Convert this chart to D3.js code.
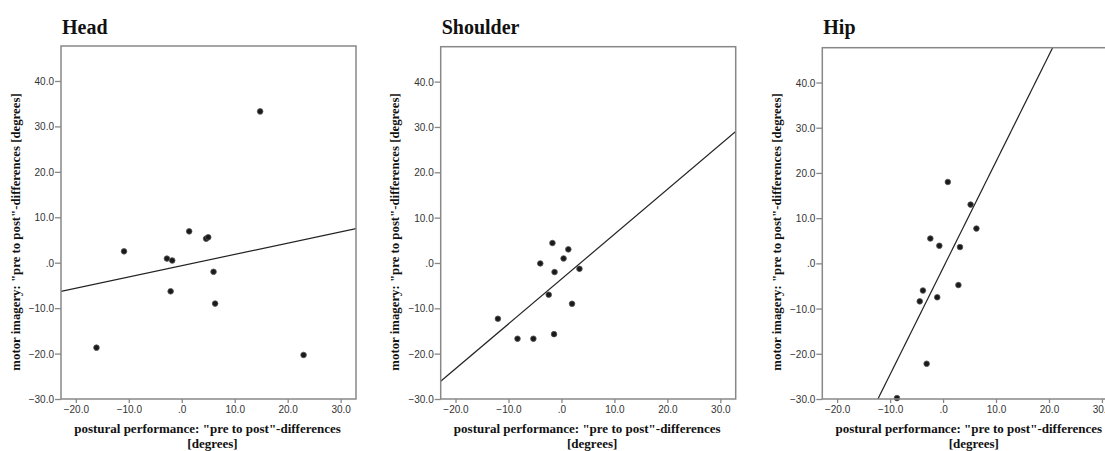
<!DOCTYPE html>
<html>
<head>
<meta charset="utf-8">
<script src="https://cdn.jsdelivr.net/npm/d3@7"></script>
<style>
  body { margin: 0; background: #fff; }
  svg { display: block; }
  .tick text { font-family: Arial, "Liberation Sans", sans-serif; font-size: 10px; fill: #333; }
  .tick line { stroke: #888; stroke-width: 1.3; }
  .domain { display: none; }
</style>
</head>
<body>
<svg id="chart" width="1105" height="451"></svg>
<script>
// Panel titles
const panelTitles = ['Head', 'Shoulder', 'Hip'];

// Scatter values (x: postural, y: motor imagery)
const headX = [14.8, -10.9, -2.8, -1.8, 1.4, 4.6, 5.0, 6.0, -2.1, 6.3, -16.1, 23.0];
const headY = [33.3, 2.5, 0.9, 0.5, 6.9, 5.3, 5.6, -2.0, -6.3, -9.0, -18.7, -20.3];

const shoulderX = [-1.7, 1.3, 0.4, -4.0, -1.3, 3.4, -2.4, 2.0, -12.0, -8.3, -5.3, -1.4];
const shoulderY = [4.4, 3.0, 1.0, -0.1, -2.0, -1.3, -7.0, -9.0, -12.3, -16.7, -16.7, -15.7];

const hipX = [0.9, 5.2, 6.3, -2.4, -0.7, 3.2, 2.9, -3.8, -1.1, -4.4, -3.1, -8.7];
const hipY = [18.0, 13.0, 7.7, 5.5, 3.9, 3.6, -4.8, -6.0, -7.5, -8.4, -22.2, -29.8];

// Fit lines (intercept, slope)
const fitIntercepts = [-0.65, -3.55, -1.03];
const fitSlopes = [0.248, 0.989, 2.355];

// Axes
const xTicks = [-20, -10, 0, 10, 20, 30];
const yTicks = [-30, -20, -10, 0, 10, 20, 30, 40];
const xDomain = [-22.8, 32.9];
const yDomain = [-30, 47.7];

const xLabel = ['postural performance: "pre to post"-differences', '[degrees]'];
const yLabel = 'motor imagery: "pre to post"-differences [degrees]';

const seriesX = [headX, shoulderX, hipX];
const seriesY = [headY, shoulderY, hipY];

const panelLeft = [61, 440.7, 822.3];
const panelTop = [46, 46.7, 47.7];
const plotW = 295;
const plotBottom = 399;

const svg = d3.select('#chart');
const fmt = d => d === 0 ? '.0' : d3.format('.1f')(d);
const serif = '"Liberation Serif", "Times New Roman", serif';

panelTitles.forEach((title, i) => {
  const left = panelLeft[i];
  const top = panelTop[i];
  const h = plotBottom - top;

  const x = d3.scaleLinear().domain(xDomain).range([0, plotW]);
  const y = d3.scaleLinear().domain(yDomain).range([h, 0]);

  const g = svg.append('g')
    .attr('class', 'panel')
    .attr('transform', `translate(${left},${top})`);

  // Title
  svg.append('text')
    .attr('x', left + 1)
    .attr('y', 33.5)
    .attr('font-family', serif)
    .attr('font-weight', 'bold')
    .attr('font-size', 20)
    .attr('fill', '#111')
    .text(title);

  // Clip for the fit line
  svg.append('clipPath')
    .attr('id', `clip-${i}`)
    .append('rect')
    .attr('width', plotW)
    .attr('height', h);

  // Axes
  g.append('g')
    .attr('transform', `translate(0,${h})`)
    .call(d3.axisBottom(x).tickValues(xTicks).tickFormat(fmt).tickSize(4).tickPadding(3));

  g.append('g')
    .call(d3.axisLeft(y).tickValues(yTicks).tickFormat(fmt).tickSize(6).tickPadding(1))
    .selectAll('.tick text').attr('dy', '0.35em');

  // Fit line
  const lineData = xDomain.map(v => ({ x: v, y: fitIntercepts[i] + fitSlopes[i] * v }));
  g.append('path')
    .datum(lineData)
    .attr('clip-path', `url(#clip-${i})`)
    .attr('fill', 'none')
    .attr('stroke', '#222')
    .attr('stroke-width', 1.2)
    .attr('d', d3.line().x(d => x(d.x)).y(d => y(d.y)));

  // Points
  const pts = seriesX[i].map((v, k) => ({ x: v, y: seriesY[i][k] }));
  g.append('g')
    .selectAll('circle')
    .data(pts)
    .join('circle')
    .attr('cx', d => x(d.x))
    .attr('cy', d => y(d.y))
    .attr('r', 2.8)
    .attr('fill', '#1a1a1a')
    .attr('stroke', '#555')
    .attr('stroke-width', 0.8);

  // Plot box
  g.append('rect')
    .attr('width', plotW)
    .attr('height', h)
    .attr('fill', 'none')
    .attr('stroke', '#888')
    .attr('stroke-width', 1.5);

  // X label
  const xl = g.append('text')
    .attr('text-anchor', 'middle')
    .attr('font-family', serif)
    .attr('font-weight', 'bold')
    .attr('font-size', 13)
    .attr('fill', '#111');
  xl.append('tspan').attr('x', plotW / 2 - 1).attr('y', h + 34).text(xLabel[0]);
  xl.append('tspan').attr('x', plotW / 2 + 4).attr('y', h + 49).text(xLabel[1]);

  // Y label
  g.append('text')
    .attr('transform', `translate(-41.5,${232 - top}) rotate(-90)`)
    .attr('text-anchor', 'middle')
    .attr('font-family', serif)
    .attr('font-weight', 'bold')
    .attr('font-size', 12.8)
    .attr('fill', '#111')
    .text(yLabel);
});
</script>
</body>
</html>
